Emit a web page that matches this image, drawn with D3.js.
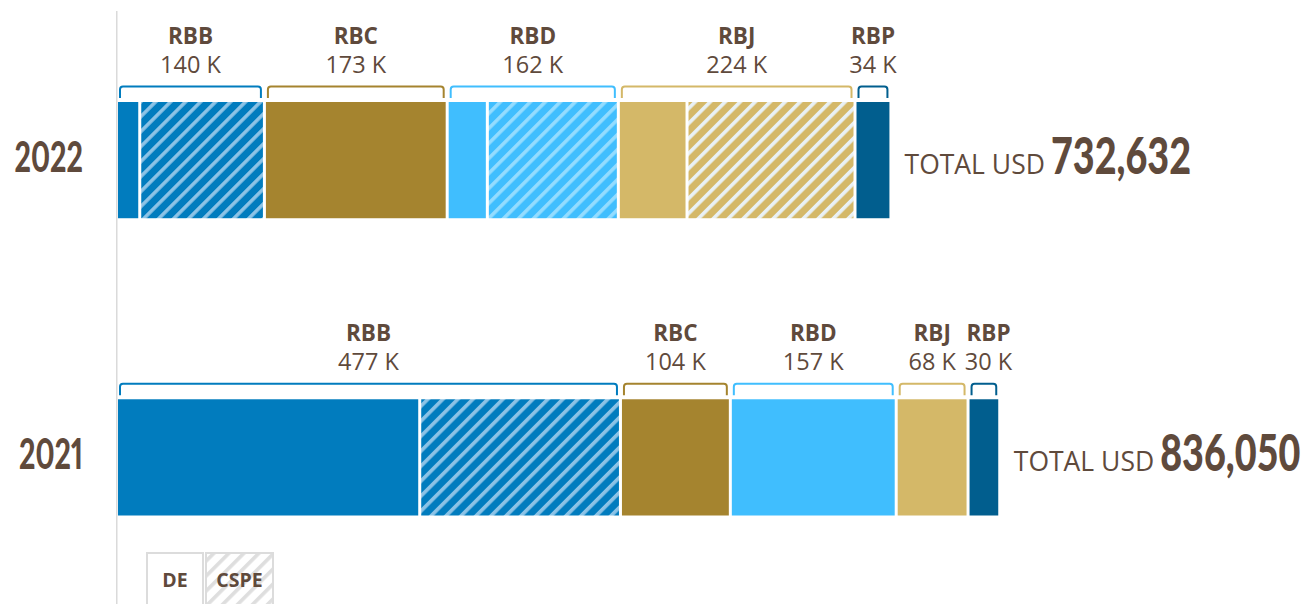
<!DOCTYPE html>
<html>
<head>
<meta charset="utf-8">
<script src="https://cdn.jsdelivr.net/npm/d3@7"></script>
<style>
  html, body { margin: 0; padding: 0; background: #fff; }
  svg { display: block; }
</style>
</head>
<body>
<svg id="chart" width="1316" height="604"></svg>
<script>
// ---- data (values in thousands of USD) ----
const years = ["2022", "2021"];
const groups = ["RBB", "RBC", "RBD", "RBJ", "RBP"];
const de2022 = [22, 173, 38, 65, 34];
const cspe2022 = [118, 0, 124, 159, 0];
const de2021 = [287, 104, 157, 68, 30];
const cspe2021 = [190, 0, 0, 0, 0];
const totals = [732632, 836050];
const legendLabels = ["DE", "CSPE"];

// ---- styles ----
const baseColor = { RBB: "#017cbe", RBC: "#a5842f", RBD: "#40befe", RBJ: "#d4b868", RBP: "#015e8e" };
const stripeColor = { RBB: "#8cc3e6", RBC: "#d2c197", RBD: "#93dcff", RBJ: "#e9f1f5", RBP: "#7fb0c8" };
const brown = "#5f4a3c";
const condensedYear = 0.68;
const condensedTotal = 0.74;

const svg = d3.select("#chart");
const defs = svg.append("defs");

function hatch(id, bg, stripe, w) {
  const p = defs.append("pattern").attr("id", id)
    .attr("patternUnits", "userSpaceOnUse")
    .attr("width", 10.6).attr("height", 10.6)
    .attr("patternTransform", "rotate(45)");
  p.append("rect").attr("width", 10.6).attr("height", 10.6).attr("fill", bg);
  p.append("rect").attr("x", 0).attr("y", 0).attr("width", w).attr("height", 10.6).attr("fill", stripe);
}
groups.forEach(g => hatch("hatch-" + g, baseColor[g], stripeColor[g], 3.6));
hatch("hatch-legend", "#ffffff", "#dedede", 3.6);

// ---- scales ----
const x = d3.scaleLinear().domain([0, d3.max(totals) / 1000]).range([116.5, 999.8]);
const y = d3.scaleBand().domain(years).range([102, 515.5]).paddingInner(0.609).paddingOuter(0);
const bh = y.bandwidth();

// axis line
svg.append("line")
  .attr("x1", 116.75).attr("x2", 116.75).attr("y1", 11).attr("y2", 604)
  .attr("stroke", "#dadada").attr("stroke-width", 1.5);

const deByYear = { "2022": de2022, "2021": de2021 };
const cspeByYear = { "2022": cspe2022, "2021": cspe2021 };

years.forEach((yr, yi) => {
  const top = y(yr);
  const de = deByYear[yr], cs = cspeByYear[yr];
  const g = svg.append("g");
  let acc = 0;
  const segs = [], grp = [];
  groups.forEach((name, i) => {
    const start = acc;
    segs.push({ name, kind: "DE", s: acc, e: acc + de[i] });
    acc += de[i];
    if (cs[i] > 0) { segs.push({ name, kind: "CSPE", s: acc, e: acc + cs[i] }); acc += cs[i]; }
    grp.push({ name, s: start, e: acc, v: de[i] + cs[i] });
  });

  // bars
  g.selectAll("rect.seg").data(segs).join("rect")
    .attr("class", "seg")
    .attr("x", d => x(d.s) + 1.5)
    .attr("width", d => Math.max(0, x(d.e) - x(d.s) - 3))
    .attr("y", top).attr("height", bh)
    .attr("fill", d => d.kind === "DE" ? baseColor[d.name] : `url(#hatch-${d.name})`);

  // brackets
  const r = 3, bt = top - 15.5, bb = top - 4;
  g.selectAll("path.br").data(grp).join("path")
    .attr("class", "br")
    .attr("fill", "none").attr("stroke-width", 2)
    .attr("stroke", d => baseColor[d.name])
    .attr("d", d => {
      const x0 = x(d.s) + 3.5, x1 = x(d.e) - 3.5;
      return `M${x0},${bb}V${bt + r}Q${x0},${bt} ${x0 + r},${bt}H${x1 - r}Q${x1},${bt} ${x1},${bt + r}V${bb}`;
    });

  // labels
  const labs = g.selectAll("g.lab").data(grp).join("g").attr("class", "lab");
  labs.append("text").attr("class", "nm")
    .attr("y", top - 58).attr("text-anchor", "middle")
    .style("font-family", "'Open Sans'").style("font-weight", 700).style("font-size", "22.5px")
    .attr("fill", brown).text(d => d.name);
  labs.append("text").attr("class", "vl")
    .attr("y", top - 29).attr("text-anchor", "middle")
    .style("font-family", "'Open Sans'").style("font-weight", 400).style("font-size", "23.5px")
    .attr("fill", brown).text(d => d3.format(",")(d.v) + " K");
  // collision avoidance
  let prevRight = -Infinity;
  labs.each(function(d) {
    const sel = d3.select(this);
    const w = Math.max(sel.select(".nm").node().getComputedTextLength(), sel.select(".vl").node().getComputedTextLength());
    let cx = (x(d.s) + x(d.e)) / 2;
    if (cx - w / 2 < prevRight + 9) cx = prevRight + 9 + w / 2;
    prevRight = cx + w / 2;
    sel.attr("transform", `translate(${cx},0)`);
  });

  // year label
  g.append("text")
    .attr("transform", `translate(83,${top + bh / 2 + 12}) scale(${condensedYear},1)`)
    .attr("text-anchor", "end")
    .style("font-family", "Lato").style("font-weight", 900).style("font-size", "42px")
    .style("font-variant-numeric", "proportional-nums")
    .attr("fill", brown).text(yr);

  // total
  const tx = x(totals[yi] / 1000) + 14, tyy = top + bh / 2 + 14;
  const tl = g.append("text").attr("x", tx).attr("y", tyy)
    .style("font-family", "'Open Sans'").style("font-size", "26.5px").attr("fill", brown)
    .text("TOTAL USD");
  const tw = tl.node().getComputedTextLength();
  g.append("text")
    .attr("transform", `translate(${tx + tw + 6},${tyy}) scale(${condensedTotal},1)`)
    .style("font-family", "Lato").style("font-weight", 900).style("font-size", "51px")
    .attr("fill", brown).text(d3.format(",")(totals[yi]));
});

// legend
const lx = [147, 206], lw = [56, 67];
const lg = svg.append("g");
legendLabels.forEach((t, i) => {
  lg.append("rect").attr("x", lx[i]).attr("y", 553).attr("width", lw[i]).attr("height", 60)
    .attr("fill", i === 0 ? "#fff" : "url(#hatch-legend)")
    .attr("stroke", "#dcdcdc").attr("stroke-width", 2);
  lg.append("text").attr("x", lx[i] + lw[i] / 2).attr("y", 587).attr("text-anchor", "middle")
    .style("font-family", "'Open Sans'").style("font-weight", 700).style("font-size", "19.5px")
    .attr("fill", brown).text(t);
});
</script>
</body>
</html>
